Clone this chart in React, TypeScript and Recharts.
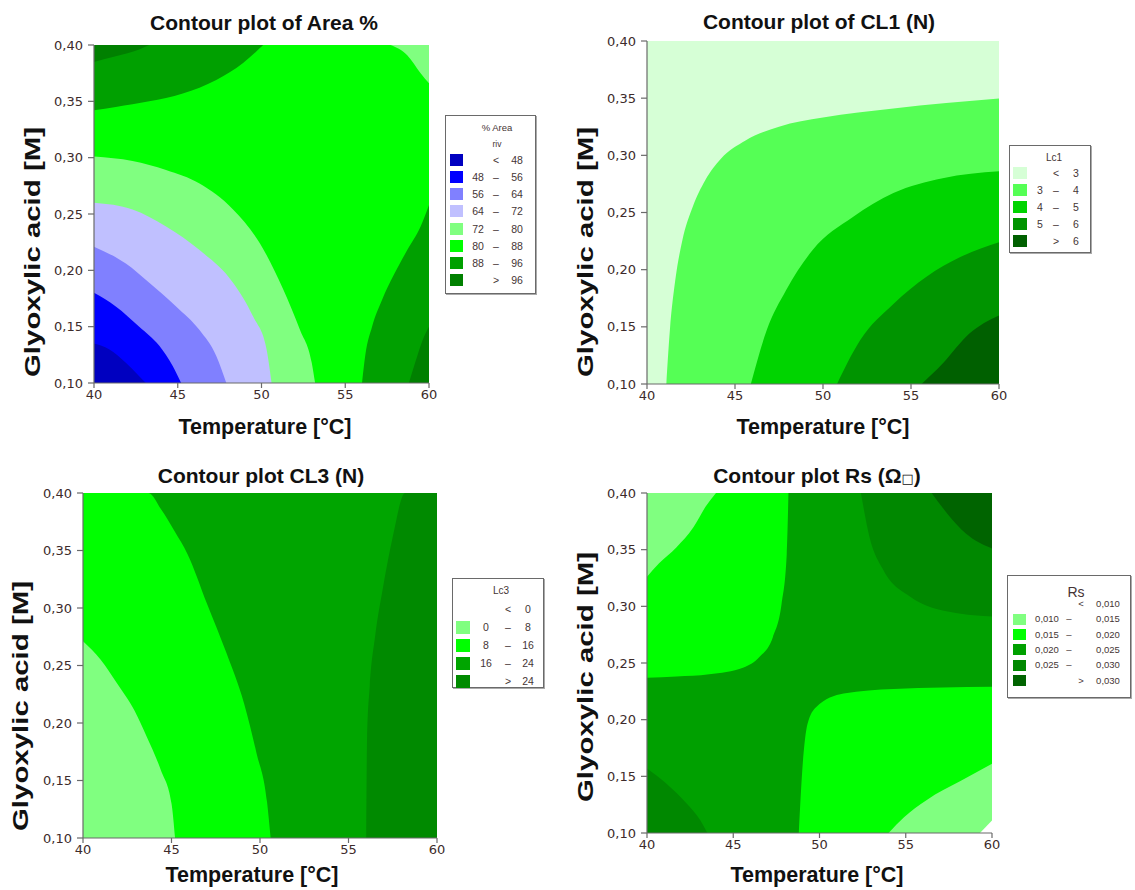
import React from 'react';
import { ComposedChart, Area, XAxis, YAxis } from 'recharts';

type Pt = [number, number];

// axes
const tempTicks = [40, 45, 50, 55, 60];
const acidTicks = [0.1, 0.15, 0.2, 0.25, 0.3, 0.35, 0.4];
const fullSquare: Pt[] = [[40, 0.4], [60, 0.4]];

// ---- Area % contours (temperature, acid) ----
const areaPct72: Pt[] = [[40, 0.301], [42.3, 0.297], [44.3, 0.289], [46.3, 0.277], [48.3, 0.254], [49.9, 0.224], [51.3, 0.183], [52.3, 0.147], [53.0, 0.118], [53.2, 0.1]];
const areaPct64: Pt[] = [[40, 0.26], [42.3, 0.254], [44.3, 0.239], [46.3, 0.218], [48.3, 0.189], [49.5, 0.159], [50.3, 0.13], [50.6, 0.1]];
const areaPct56: Pt[] = [[40, 0.221], [41.9, 0.206], [43.3, 0.189], [44.9, 0.168], [46.3, 0.147], [47.3, 0.124], [47.9, 0.1]];
const areaPct48: Pt[] = [[40, 0.18], [41.3, 0.168], [42.7, 0.15], [43.9, 0.133], [44.7, 0.115], [45.2, 0.1]];
const areaPctLow: Pt[] = [[40, 0.135], [40.9, 0.13], [41.9, 0.118], [42.7, 0.106], [43.1, 0.1]];
const areaPctTopLeft88: Pt[] = [[40, 0.342], [41.3, 0.345], [43.3, 0.35], [45.3, 0.357], [47.3, 0.369], [48.9, 0.384], [50.1, 0.4]];
const areaPctTopLeft96: Pt[] = [[40, 0.385], [41.3, 0.39], [42.7, 0.396], [43.3, 0.4]];
const areaPctTopRight72: Pt[] = [[57.7, 0.4], [58.7, 0.391], [59.5, 0.375], [60, 0.366]];
const areaPctRight88: Pt[] = [[56.0, 0.1], [56.2, 0.125], [56.6, 0.15], [57.2, 0.174], [57.9, 0.196], [58.7, 0.218], [59.5, 0.239], [60, 0.258]];
const areaPctRight96: Pt[] = [[58.8, 0.1], [59.3, 0.124], [59.7, 0.141], [60, 0.15]];

// ---- CL1 contours ----
const cl1At3: Pt[] = [[41.1, 0.1], [41.3, 0.147], [41.6, 0.19], [42.0, 0.225], [42.6, 0.255], [43.3, 0.278], [44.2, 0.297], [45.6, 0.313], [47.5, 0.325], [50.0, 0.333], [54.0, 0.341], [60, 0.3496]];
const cl1At4: Pt[] = [[45.9, 0.1], [46.8, 0.147], [47.9, 0.182], [49.4, 0.217], [51.7, 0.246], [54.0, 0.267], [56.8, 0.28], [60, 0.286]];
const cl1At5: Pt[] = [[50.8, 0.1], [52.1, 0.138], [54.0, 0.17], [55.9, 0.194], [57.8, 0.211], [60, 0.224]];
const cl1At6: Pt[] = [[55.6, 0.1], [56.8, 0.118], [58.3, 0.144], [60, 0.16]];

// ---- CL3 contours ----
const cl3At16: Pt[] = [[40, 0.4], [43.7, 0.4], [44.4, 0.386], [45.2, 0.366], [45.9, 0.347], [47.0, 0.304], [48.1, 0.261], [49.1, 0.217], [49.8, 0.174], [50.4, 0.131], [50.6, 0.1]];
const cl3At8: Pt[] = [[40, 0.271], [41.0, 0.255], [41.9, 0.235], [42.9, 0.211], [43.6, 0.188], [44.4, 0.159], [45.0, 0.13], [45.2, 0.1]];
const cl3At24: Pt[] = [[56.0, 0.1], [56.05, 0.188], [56.2, 0.232], [56.5, 0.275], [56.95, 0.318], [57.5, 0.362], [58.2, 0.4], [60, 0.4]];

// ---- Rs contours ----
const rsTopLeft15: Pt[] = [[40, 0.237], [41.7, 0.238], [43.6, 0.24], [45.6, 0.246], [46.5, 0.255], [47.3, 0.273], [47.8, 0.302], [48.1, 0.346], [48.2, 0.4]];
const rsTopLeft10: Pt[] = [[40, 0.326], [40.7, 0.338], [41.7, 0.352], [42.7, 0.37], [43.4, 0.388], [44.0, 0.4]];
const rsBottomRight15: Pt[] = [[48.8, 0.1], [49.0, 0.155], [49.3, 0.196], [49.8, 0.211], [51.4, 0.223], [54.3, 0.227], [60, 0.229]];
const rsBottomRight10: Pt[] = [[54.0, 0.1], [54.9, 0.114], [56.2, 0.129], [58.2, 0.146], [60, 0.161]];
const rsBottomRightLow: Pt[] = [[59.3, 0.1], [60, 0.111]];
const rsTopRight25: Pt[] = [[52.4, 0.4], [52.9, 0.361], [53.7, 0.332], [55.3, 0.308], [57.2, 0.296], [60, 0.291]];
const rsTopRight30: Pt[] = [[56.5, 0.4], [57.4, 0.382], [58.5, 0.364], [60, 0.351]];
const rsBottomLeft25: Pt[] = [[40, 0.157], [41.1, 0.144], [42.3, 0.126], [43.1, 0.111], [43.5, 0.1]];

// legend labels
const areaPctLo = ['', '48', '56', '64', '72', '80', '88', ''];
const areaPctHi = ['48', '56', '64', '72', '80', '88', '96', '96'];
const cl1Lo = ['', '3', '4', '5', ''];
const cl1Hi = ['3', '4', '5', '6', '6'];
const cl3Lo = ['', '0', '8', '16', ''];
const cl3Hi = ['0', '8', '16', '24', '24'];
const rsLo = ['', '0,010', '0,015', '0,020', '0,025', ''];
const rsHi = ['0,010', '0,015', '0,020', '0,025', '0,030', '0,030'];

// palettes
const areaPctColors = ['#0000c0', '#0000ff', '#8080ff', '#c0c0ff', '#80ff80', '#00ff00', '#00a000', '#008000'];
const cl1Colors = ['#d6ffd6', '#55ff55', '#00d400', '#009400', '#006000'];
const cl3Colors = [null, '#80ff80', '#00ff00', '#00a500', '#008a00'];
const rsColors = [null, '#80ff80', '#00ff00', '#00a000', '#008800', '#006400'];

type Layer = { pts: Pt[]; color: string; edge: 'top' | 'bottom' };

const areaPctLayers: Layer[] = [
  { pts: fullSquare, color: areaPctColors[5], edge: 'bottom' },
  { pts: areaPct72, color: areaPctColors[4], edge: 'bottom' },
  { pts: areaPct64, color: areaPctColors[3], edge: 'bottom' },
  { pts: areaPct56, color: areaPctColors[2], edge: 'bottom' },
  { pts: areaPct48, color: areaPctColors[1], edge: 'bottom' },
  { pts: areaPctLow, color: areaPctColors[0], edge: 'bottom' },
  { pts: areaPctTopLeft88, color: areaPctColors[6], edge: 'top' },
  { pts: areaPctTopLeft96, color: areaPctColors[7], edge: 'top' },
  { pts: areaPctTopRight72, color: areaPctColors[4], edge: 'top' },
  { pts: areaPctRight88, color: areaPctColors[6], edge: 'bottom' },
  { pts: areaPctRight96, color: areaPctColors[7], edge: 'bottom' },
];

const cl1Layers: Layer[] = [
  { pts: fullSquare, color: cl1Colors[0], edge: 'bottom' },
  { pts: cl1At3, color: cl1Colors[1], edge: 'bottom' },
  { pts: cl1At4, color: cl1Colors[2], edge: 'bottom' },
  { pts: cl1At5, color: cl1Colors[3], edge: 'bottom' },
  { pts: cl1At6, color: cl1Colors[4], edge: 'bottom' },
];

const cl3Layers: Layer[] = [
  { pts: fullSquare, color: cl3Colors[3] as string, edge: 'bottom' },
  { pts: cl3At16, color: cl3Colors[2] as string, edge: 'bottom' },
  { pts: cl3At8, color: cl3Colors[1] as string, edge: 'bottom' },
  { pts: cl3At24, color: cl3Colors[4] as string, edge: 'bottom' },
];

const rsLayers: Layer[] = [
  { pts: fullSquare, color: rsColors[3] as string, edge: 'bottom' },
  { pts: rsTopLeft15, color: rsColors[2] as string, edge: 'top' },
  { pts: rsTopLeft10, color: rsColors[1] as string, edge: 'top' },
  { pts: rsBottomRight15, color: rsColors[2] as string, edge: 'bottom' },
  { pts: rsBottomRight10, color: rsColors[1] as string, edge: 'bottom' },
  { pts: rsBottomRightLow, color: '#ffffff', edge: 'bottom' },
  { pts: rsTopRight25, color: rsColors[4] as string, edge: 'top' },
  { pts: rsTopRight30, color: rsColors[5] as string, edge: 'top' },
  { pts: rsBottomLeft25, color: rsColors[4] as string, edge: 'bottom' },
];

const toRows = (pts: Pt[]) => pts.map(([t, g]) => ({ t, g }));

const tickFont = { fontFamily: 'DejaVu Sans', fontSize: 13, fill: '#3d2b2b' };
const axisLine = { stroke: '#6a6a6a', strokeWidth: 1.2 };
const boldFont = "'Liberation Sans', Arial, sans-serif";

const ContourPanel = ({ box, layers }: { box: number[]; layers: Layer[] }) => {
  const [x0, x1, y0, y1] = box;
  const yw = 70;
  return (
    <div style={{ position: 'absolute', left: x0 - yw, top: y0 - 10 }}>
      <ComposedChart
        width={x1 - x0 + yw + 10}
        height={y1 - y0 + 45}
        margin={{ top: 10, right: 10, bottom: 5, left: 0 }}
      >
        {layers.map((l, i) => (
          <Area
            key={i}
            data={toRows(l.pts)}
            dataKey="g"
            type="monotone"
            stroke="none"
            fill={l.color}
            fillOpacity={1}
            baseValue={l.edge === 'top' ? 0.4 : 0.1}
            dot={false}
            activeDot={false}
            isAnimationActive={false}
          />
        ))}
        <XAxis
          dataKey="t"
          type="number"
          domain={[40, 60]}
          ticks={tempTicks}
          interval={0}
          allowDataOverflow
          height={30}
          tickSize={5}
          tickMargin={2}
          tick={tickFont}
          axisLine={axisLine}
          tickLine={axisLine}
        />
        <YAxis
          type="number"
          domain={[0.1, 0.4]}
          ticks={acidTicks}
          interval={0}
          allowDataOverflow
          width={yw}
          tickSize={6}
          tickMargin={5}
          tick={tickFont}
          tickFormatter={(v: number) => v.toFixed(2).replace('.', ',')}
          axisLine={axisLine}
          tickLine={axisLine}
        />
        <XAxis xAxisId="top" orientation="top" type="number" domain={[40, 60]} height={0} tick={false} tickLine={false} axisLine={axisLine} />
        <YAxis yAxisId="right" orientation="right" type="number" domain={[0.1, 0.4]} width={0} tick={false} tickLine={false} axisLine={axisLine} />
      </ComposedChart>
    </div>
  );
};

type LegendCfg = {
  left: number; top: number; width: number; height: number;
  title: string; sub?: string; titleX: number; titleY: number; titleSize: number; font: number;
  row0: number; step: number; sw: number; sh: number; swX: number;
  loX: number; dashX: number; symX: number; hiX: number;
};

const ContourLegend = ({ cfg, lo, hi, colors }: { cfg: LegendCfg; lo: string[]; hi: string[]; colors: (string | null)[] }) => {
  const txt = { position: 'absolute' as const, transform: 'translate(-50%, -50%)', whiteSpace: 'nowrap' as const, lineHeight: 1 };
  return (
    <div
      style={{
        position: 'absolute', left: cfg.left, top: cfg.top, width: cfg.width, height: cfg.height,
        border: '1.5px solid #6a6a6a', boxShadow: '1px 1px 0 #aaa', boxSizing: 'border-box',
        fontFamily: "'Liberation Sans', Arial, sans-serif", fontSize: cfg.font, color: '#453535', background: '#fff',
      }}
    >
      <div style={{ ...txt, left: cfg.titleX, top: cfg.titleY, fontSize: cfg.titleSize }}>{cfg.title}</div>
      {cfg.sub && <div style={{ ...txt, left: cfg.titleX, top: cfg.titleY + 16, fontSize: 8.5 }}>{cfg.sub}</div>}
      {hi.map((h, i) => {
        const y = cfg.row0 + i * cfg.step;
        const first = i === 0;
        const last = i === hi.length - 1;
        return (
          <React.Fragment key={i}>
            {colors[i] && (
              <div style={{ position: 'absolute', left: cfg.swX, top: y - cfg.sh / 2, width: cfg.sw, height: cfg.sh, background: colors[i] as string }} />
            )}
            {lo[i] && <div style={{ ...txt, left: cfg.loX, top: y }}>{lo[i]}</div>}
            <div style={{ ...txt, left: first || last ? cfg.symX : cfg.dashX, top: y }}>{first ? '<' : last ? '>' : '–'}</div>
            <div style={{ ...txt, left: cfg.hiX, top: y }}>{h}</div>
          </React.Fragment>
        );
      })}
    </div>
  );
};

const legendAreaPct: LegendCfg = { left: 445, top: 115, width: 91, height: 179, title: '% Area', sub: 'riv', titleX: 51, titleY: 12, titleSize: 9.5, font: 10.5, row0: 44, step: 17.15, sw: 13, sh: 12, swX: 4, loX: 32, dashX: 50, symX: 50, hiX: 71 };
const legendCl1: LegendCfg = { left: 1009, top: 145, width: 82, height: 108, title: 'Lc1', titleX: 44, titleY: 12, titleSize: 10, font: 10.5, row0: 27, step: 17, sw: 14, sh: 12, swX: 3, loX: 30, dashX: 46, symX: 46, hiX: 66 };
const legendCl3: LegendCfg = { left: 452, top: 578, width: 92, height: 110, title: 'Lc3', titleX: 48, titleY: 12, titleSize: 10, font: 10.5, row0: 30, step: 18, sw: 14, sh: 13, swX: 3, loX: 33, dashX: 55, symX: 55, hiX: 75 };
const legendRs: LegendCfg = { left: 1007, top: 575, width: 124, height: 123, title: 'Rs', titleX: 68, titleY: 16, titleSize: 14, font: 9.5, row0: 28, step: 15.3, sw: 13, sh: 11, swX: 5, loX: 39, dashX: 61, symX: 73, hiX: 100 };

const Titles = () => {
  const title = { fontFamily: boldFont, fontWeight: 700, fontSize: 21, fill: '#111', textAnchor: 'middle' as const };
  const xl = { fontFamily: boldFont, fontWeight: 700, fontSize: 21.5, fill: '#111', textAnchor: 'middle' as const, dominantBaseline: 'central' as const };
  const yl = { ...xl, fontSize: 22 };
  const yLabels = [[32, 252], [585, 252], [20, 706], [585, 677]];
  return (
    <svg width={1135} height={890} style={{ position: 'absolute', left: 0, top: 0, pointerEvents: 'none' }}>
      <text x={264} y={30} {...title}>Contour plot of Area %</text>
      <text x={819} y={29} {...title}>Contour plot of CL1 (N)</text>
      <text x={261} y={483} {...title}>Contour plot CL3 (N)</text>
      <text x={817} y={483} {...title}>
        Contour plot Rs (Ω<tspan fontSize={13} fontFamily="DejaVu Sans" fontWeight={400}>□</tspan>)
      </text>
      <text x={265} y={427} {...xl}>Temperature [°C]</text>
      <text x={823} y={427} {...xl}>Temperature [°C]</text>
      <text x={252} y={875} {...xl}>Temperature [°C]</text>
      <text x={817} y={875} {...xl}>Temperature [°C]</text>
      {yLabels.map(([x, y], i) => (
        <text key={i} x={x} y={y} {...yl} transform={`rotate(-90 ${x} ${y})`} textLength={250} lengthAdjust="spacingAndGlyphs">
          Glyoxylic acid [M]
        </text>
      ))}
    </svg>
  );
};

export default function App() {
  return (
    <div style={{ position: 'absolute', left: 0, top: 0, width: 1135, height: 890, background: '#fff', overflow: 'hidden' }}>
      <ContourPanel box={[94, 429, 45, 383]} layers={areaPctLayers} />
      <ContourPanel box={[647, 999, 41, 384]} layers={cl1Layers} />
      <ContourPanel box={[83, 437, 493, 838]} layers={cl3Layers} />
      <ContourPanel box={[647, 992, 493, 833]} layers={rsLayers} />
      <ContourLegend cfg={legendAreaPct} lo={areaPctLo} hi={areaPctHi} colors={areaPctColors} />
      <ContourLegend cfg={legendCl1} lo={cl1Lo} hi={cl1Hi} colors={cl1Colors} />
      <ContourLegend cfg={legendCl3} lo={cl3Lo} hi={cl3Hi} colors={cl3Colors} />
      <ContourLegend cfg={legendRs} lo={rsLo} hi={rsHi} colors={rsColors} />
      <Titles />
    </div>
  );
}
